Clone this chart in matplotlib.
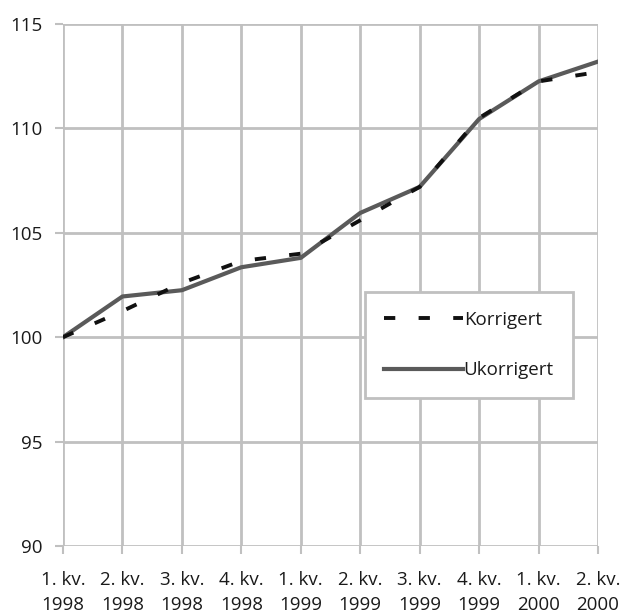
import numpy as np
import matplotlib
matplotlib.use("Agg")
import matplotlib.pyplot as plt

plt.rcParams['font.family'] = ['Open Sans', 'DejaVu Sans']

quarters = ["1. kv.\n1998", "2. kv.\n1998", "3. kv.\n1998", "4. kv.\n1998",
            "1. kv.\n1999", "2. kv.\n1999", "3. kv.\n1999", "4. kv.\n1999",
            "1. kv.\n2000", "2. kv.\n2000"]
korrigert = [100.0, 101.25, 102.6, 103.65, 104.0, 105.6, 107.2, 110.5, 112.25, 112.7]
ukorrigert = [100.0, 101.95, 102.25, 103.35, 103.8, 105.95, 107.2, 110.45, 112.25, 113.2]
yticks = [90, 95, 100, 105, 110, 115]

grid_col = '#c0c0c0'

fig = plt.figure(figsize=(6.24, 6.14), dpi=100)
ax = fig.add_axes([63/624, 68/614, 535/624, 522/614])

x = np.arange(len(quarters))
ax.plot(x, korrigert, color='#111111', lw=2.8, dashes=(2.9, 6.0), label='Korrigert', zorder=3)
ax.plot(x, ukorrigert, color='#5a5a5a', lw=3.0, label='Ukorrigert', zorder=2)

ax.set_xlim(0, len(quarters) - 1)
ax.set_ylim(90, 115)
ax.set_yticks(yticks)
ax.set_xticks(x)
ax.set_xticklabels(quarters, fontsize=13.5, linespacing=1.5, color='#1a1a1a')
ax.tick_params(axis='y', labelsize=13.5, labelcolor='#1a1a1a', length=6, width=1.5,
               color=grid_col, pad=9)
ax.tick_params(axis='x', length=6, width=1.5, color=grid_col, pad=12)

ax.grid(True, color=grid_col, lw=2)
ax.set_axisbelow(True)
for s in ax.spines.values():
    s.set_visible(False)

leg = ax.legend(loc='upper left', bbox_to_anchor=(0.565, 0.487), fontsize=13.5,
                frameon=True, fancybox=False, edgecolor=grid_col,
                handlelength=4.2, handletextpad=0.05, labelspacing=1.75,
                borderpad=1.0, borderaxespad=0)
leg.get_frame().set_linewidth(2)
leg.get_frame().set_alpha(1)
for t in leg.get_texts():
    t.set_color('#1a1a1a')

fig.savefig('out.png', dpi=100)
